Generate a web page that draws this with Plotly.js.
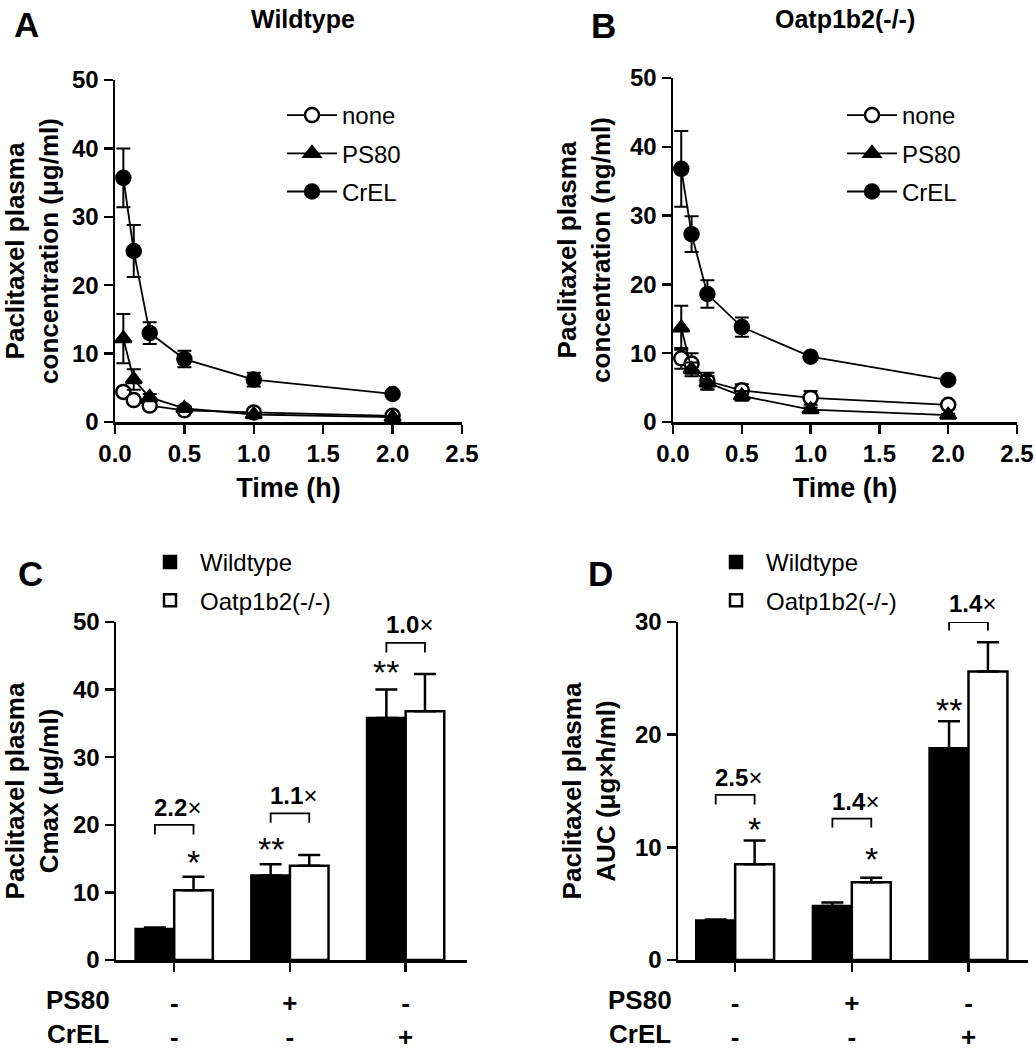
<!DOCTYPE html>
<html>
<head>
<meta charset="utf-8">
<script src="https://cdn.plot.ly/plotly-3.0.1.min.js"></script>
<style>html,body{margin:0;padding:0;background:#fff;}#chart{width:1035px;height:1050px;}</style>
</head>
<body>
<div id="chart"></div>
<script>
// ---------- data ----------
const timeH = [0.06, 0.135, 0.25, 0.5, 1, 2];

const wtNone = [4.4, 3.2, 2.4, 1.7, 1.4, 0.9];
const wtNoneErr = [0.5, 0.4, 0.3, 0.3, 0.2, 0.2];
const wtPS80 = [12.2, 6.2, 3.6, 2.0, 1.1, 0.7];
const wtPS80Err = [3.6, 1.5, 0.5, 0.3, 0.2, 0.1];
const wtCrEL = [35.7, 25.0, 13.0, 9.2, 6.2, 4.1];
const wtCrELErr = [4.3, 3.8, 1.6, 1.2, 1.0, 0.3];

const koNone = [9.25, 8.5, 5.95, 4.6, 3.5, 2.5];
const koNoneErr = [1.5, 1.5, 1.2, 0.9, 1.0, 0.3];
const koPS80 = [13.7, 7.65, 5.7, 3.8, 1.8, 1.0];
const koPS80Err = [3.2, 1.0, 1.0, 0.7, 0.3, 0.2];
const koCrEL = [36.8, 27.3, 18.6, 13.8, 9.5, 6.1];
const koCrELErr = [5.5, 2.6, 2.0, 1.4, 0.4, 0.3];

const groups = [0, 1, 2];
const ps80Signs = ['-', '+', '-'];
const crelSigns = ['-', '-', '+'];

const cmaxWT = [4.6, 12.5, 35.8];
const cmaxWTErr = [0.2, 1.65, 4.2];
const cmaxKO = [10.3, 13.95, 36.8];
const cmaxKOErr = [2.0, 1.6, 5.5];

const aucWT = [3.5, 4.8, 18.8];
const aucWTErr = [0.1, 0.3, 2.4];
const aucKO = [8.5, 6.9, 25.6];
const aucKOErr = [2.1, 0.4, 2.6];

const cmaxFold = ['2.2', '1.1', '1.0'];
const aucFold = ['2.5', '1.4', '1.4'];

// ---------- styling ----------
const FONT = 'Liberation Sans, Arial, sans-serif';
const W = 1035, H = 1050;
const px = v => v / W;
const py = v => 1 - v / H;

function lineTrace(y, err, name, symbol, fill, xa, ya, leg, grp) {
  return {
    type: 'scatter', mode: 'lines+markers', x: timeH, y: y, name: name,
    xaxis: xa, yaxis: ya, legend: leg, legendgroup: grp + name,
    cliponaxis: false,
    line: {color: '#000', width: 1.8},
    marker: {symbol: symbol, size: 14, color: fill, line: {color: '#000', width: 2.5}},
    error_y: {type: 'data', array: err, visible: true, color: '#000', thickness: 2, width: 7}
  };
}

function barTrace(y, err, name, fill, xa, ya, leg, grp) {
  return {
    type: 'bar', x: groups, y: y, name: name, xaxis: xa, yaxis: ya, legend: leg,
    legendgroup: grp + name, cliponaxis: false,
    marker: {color: fill, line: {color: '#000', width: 2.5}},
    error_y: {type: 'data', symmetric: false, array: err, arrayminus: err.map(() => 0),
              visible: true, color: '#000', thickness: 2.5, width: 11}
  };
}

const traces = [
  lineTrace(wtNone, wtNoneErr, 'none', 'circle', '#fff', 'x', 'y', 'legend', 'a'),
  lineTrace(wtPS80, wtPS80Err, 'PS80', 'triangle-up', '#000', 'x', 'y', 'legend', 'a'),
  lineTrace(wtCrEL, wtCrELErr, 'CrEL', 'circle', '#000', 'x', 'y', 'legend', 'a'),
  lineTrace(koNone, koNoneErr, 'none', 'circle', '#fff', 'x2', 'y2', 'legend2', 'b'),
  lineTrace(koPS80, koPS80Err, 'PS80', 'triangle-up', '#000', 'x2', 'y2', 'legend2', 'b'),
  lineTrace(koCrEL, koCrELErr, 'CrEL', 'circle', '#000', 'x2', 'y2', 'legend2', 'b'),
  barTrace(cmaxWT, cmaxWTErr, 'Wildtype', '#000', 'x3', 'y3', 'legend3', 'c'),
  barTrace(cmaxKO, cmaxKOErr, 'Oatp1b2(-/-)', '#fff', 'x3', 'y3', 'legend3', 'c'),
  barTrace(aucWT, aucWTErr, 'Wildtype', '#000', 'x4', 'y4', 'legend4', 'd'),
  barTrace(aucKO, aucKOErr, 'Oatp1b2(-/-)', '#fff', 'x4', 'y4', 'legend4', 'd')
];

const tickFont = {family: FONT, size: 24, color: '#000', weight: 'bold'};
const titleFont = {family: FONT, size: 26, color: '#000', weight: 'bold'};
const rowFont = {family: FONT, size: 26, color: '#000', weight: 'bold'};

function axisBase(extra) {
  return Object.assign({
    showline: true, linecolor: '#000', linewidth: 2.5, mirror: false,
    ticks: 'outside', ticklen: 9, tickwidth: 2.5, tickcolor: '#000',
    showgrid: false, zeroline: false, tickfont: tickFont, fixedrange: true,
    ticklabeloverflow: 'allow'
  }, extra);
}

const catTicks = groups.map((g, i) => ps80Signs[i] + '<br>' + crelSigns[i]);

function legendAt(x, y) {
  return {x: px(x), y: py(y), xanchor: 'left', yanchor: 'top', bgcolor: 'rgba(0,0,0,0)',
    font: {family: FONT, size: 24, color: '#000'}, tracegroupgap: 4, itemwidth: 50};
}

const layout = {
  width: W, height: H, margin: {l: 0, r: 0, t: 0, b: 0},
  paper_bgcolor: '#fff', plot_bgcolor: 'rgba(0,0,0,0)',
  font: {family: FONT, color: '#000'},
  bargap: 0.333, bargroupgap: 0, barmode: 'group',
  xaxis: axisBase({domain: [px(115), px(462)], anchor: 'y', range: [0, 2.5], dtick: 0.5, tick0: 0,
    tickformat: '.1f', title: {text: 'Time (h)', font: {family: FONT, size: 27, weight: 'bold'}, standoff: 12}}),
  yaxis: axisBase({domain: [py(422), py(80)], anchor: 'x', range: [0, 50], dtick: 10,
    title: {text: 'Paclitaxel plasma<br>concentration (μg/ml)', font: titleFont, standoff: 12}}),
  xaxis2: axisBase({domain: [px(673), px(1017)], anchor: 'y2', range: [0, 2.5], dtick: 0.5, tick0: 0,
    tickformat: '.1f', title: {text: 'Time (h)', font: {family: FONT, size: 27, weight: 'bold'}, standoff: 12}}),
  yaxis2: axisBase({domain: [py(422), py(78)], anchor: 'x2', range: [0, 50], dtick: 10,
    title: {text: 'Paclitaxel plasma<br>concentration (ng/ml)', font: titleFont, standoff: 12}}),
  xaxis3: axisBase({domain: [px(116), px(467)], anchor: 'y3', range: [-0.503, 2.53],
    tickmode: 'array', tickvals: groups, ticktext: catTicks,
    tickfont: rowFont, ticklabelstandoff: 9}),
  yaxis3: axisBase({domain: [py(960), py(622)], anchor: 'x3', range: [0, 50], dtick: 10,
    title: {text: 'Paclitaxel plasma<br>Cmax (μg/ml)', font: titleFont, standoff: 12}}),
  xaxis4: axisBase({domain: [px(678), px(1028)], anchor: 'y4', range: [-0.49, 2.51],
    tickmode: 'array', tickvals: groups, ticktext: catTicks,
    tickfont: rowFont, ticklabelstandoff: 9}),
  yaxis4: axisBase({domain: [py(960), py(622)], anchor: 'x4', range: [0, 30], dtick: 10,
    title: {text: 'Paclitaxel plasma<br>AUC (μg×h/ml)', font: titleFont, standoff: 12}}),
  legend: legendAt(282, 93),
  legend2: legendAt(842, 93),
  legend3: legendAt(140, 540),
  legend4: legendAt(706, 540),
  shapes: [],
  annotations: []
};

// panel letters and titles
const letterFont = {family: FONT, size: 35, color: '#000', weight: 'bold'};
[['A', 26, 24], ['B', 603, 25], ['C', 30, 573], ['D', 600, 573]].forEach(([t, x, y]) => {
  layout.annotations.push({text: t, xref: 'paper', yref: 'paper', x: px(x), y: py(y),
    xanchor: 'center', yanchor: 'middle', showarrow: false, font: letterFont});
});
[['Wildtype', 303, 19], ['Oatp1b2(-/-)', 845, 19]].forEach(([t, x, y]) => {
  layout.annotations.push({text: t, xref: 'paper', yref: 'paper', x: px(x), y: py(y),
    xanchor: 'center', yanchor: 'middle', showarrow: false,
    font: {family: FONT, size: 25, color: '#000', weight: 'bold'}});
});
// row labels under bar charts
[['PS80', 78, 1000], ['CrEL', 78, 1034], ['PS80', 640, 1000], ['CrEL', 640, 1034]].forEach(([t, x, y]) => {
  layout.annotations.push({text: t, xref: 'paper', yref: 'paper', x: px(x), y: py(y),
    xanchor: 'center', yanchor: 'middle', showarrow: false, font: rowFont});
});

// brackets, fold changes and significance stars
const half = 1 / 6;
function bracket(xa, ya, yMax, g, yTop, yBot, fold, yText) {
  const x0 = g - half, x1 = g + half;
  layout.shapes.push({type: 'path', xref: xa, yref: ya,
    path: `M ${x0},${yBot} L ${x0},${yTop} L ${x1},${yTop} L ${x1},${yBot}`,
    line: {color: '#000', width: 1.8}});
  layout.annotations.push({text: '<b>' + fold + '</b>×', xref: xa, yref: ya + ' domain',
    x: g + 0.03, y: yText / yMax,
    xanchor: 'center', yanchor: 'middle', showarrow: false,
    font: {family: FONT, size: 24, color: '#000'}});
}
function star(xa, ya, yMax, x, y, s) {
  layout.annotations.push({text: s, xref: xa, yref: ya + ' domain', x: x, y: y / yMax,
    xanchor: 'center', yanchor: 'middle',
    showarrow: false, yshift: -9, font: {family: FONT, size: 34, color: '#000'}});
}
bracket('x3', 'y3', 50, 0, 20.0, 18.55, cmaxFold[0], 22.6);
bracket('x3', 'y3', 50, 1, 21.7, 20.3, cmaxFold[1], 24.3);
bracket('x3', 'y3', 50, 2, 46.9, 45.5, cmaxFold[2], 49.6);
star('x3', 'y3', 50, 0 + half, 15.8, '*');
star('x3', 'y3', 50, 1 - half, 17.8, '**');
star('x3', 'y3', 50, 2 - half, 43.9, '**');

bracket('x4', 'y4', 30, 0, 14.65, 13.8, aucFold[0], 16.2);
bracket('x4', 'y4', 30, 1, 12.54, 11.76, aucFold[1], 14.1);
bracket('x4', 'y4', 30, 2, 30.0, 29.25, aucFold[2], 31.65);
star('x4', 'y4', 30, 0 + half, 12.45, '*');
star('x4', 'y4', 30, 1 + half, 9.74, '*');
star('x4', 'y4', 30, 2 - half, 23.0, '**');

Plotly.newPlot('chart', traces, layout, {staticPlot: true, displayModeBar: false});
</script>
</body>
</html>
